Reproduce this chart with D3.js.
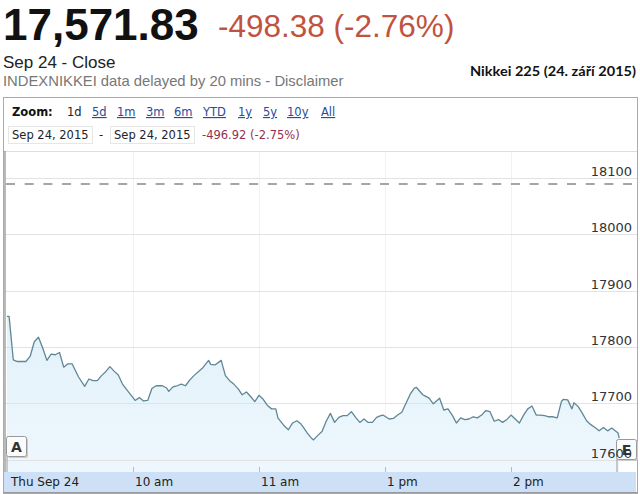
<!DOCTYPE html>
<html>
<head>
<meta charset="utf-8">
<script src="https://cdn.jsdelivr.net/npm/d3@7.9.0/dist/d3.min.js"></script>
<style>
  body { margin: 0; background: #fff; }
  svg { display: block; }
</style>
</head>
<body>
<svg id="chart" width="640" height="494"></svg>
<script>
// trading minutes since 9:00 open (lunch break 11:30-12:30 removed)
const mins = [
  0, 1, 3, 5, 9, 11, 13, 15, 17, 19,
  21, 23, 25, 27, 29, 31, 34, 37, 39, 41,
  43, 45, 47, 49, 51, 53, 55, 57, 60, 61,
  63, 65, 67, 69, 71, 74, 76, 77, 79, 81,
  83, 85, 87, 89, 93, 96, 97, 99, 102, 104,
  106, 108, 110, 112, 114, 116, 118, 120, 122, 124,
  126, 128, 129, 132, 134, 136, 138, 140, 141, 143,
  145, 146, 148, 150, 152, 154, 156, 158, 160, 162,
  164, 166, 168, 170, 172, 174, 176, 178, 179, 182,
  184, 186, 188, 190, 192, 194, 195, 198, 199, 201,
  203, 206, 208, 210, 212, 214, 216, 218, 220, 222,
  224, 226, 228, 230, 232, 234, 236, 238, 240, 242,
  244, 246, 248, 250, 252, 254, 256, 258, 260, 262,
  264, 265, 267, 269, 270, 272, 274, 276, 278, 280,
  282, 284, 286, 288, 289, 291, 291.5
];
const prices = [
  17854, 17854, 17777, 17774, 17774, 17783, 17809, 17817, 17798, 17776,
  17787, 17786, 17790, 17764, 17770, 17770, 17747, 17730, 17743, 17740,
  17740, 17749, 17756, 17765, 17757, 17750, 17734, 17724, 17710, 17705,
  17710, 17704, 17705, 17726, 17731, 17731, 17727, 17721, 17729, 17731,
  17734, 17731, 17741, 17749, 17762, 17776, 17769, 17768, 17776, 17749,
  17740, 17734, 17726, 17715, 17720, 17712, 17703, 17714, 17707, 17696,
  17690, 17690, 17674, 17660, 17653, 17665, 17669, 17663, 17658, 17647,
  17638, 17635, 17643, 17650, 17668, 17682, 17666, 17675, 17678, 17678,
  17685, 17675, 17666, 17672, 17666, 17666, 17675, 17678, 17679, 17672,
  17673, 17679, 17684, 17700, 17716, 17727, 17728, 17715, 17713, 17709,
  17699, 17709, 17688, 17690, 17679, 17665, 17674, 17671, 17672, 17676,
  17674, 17679, 17687, 17685, 17668, 17671, 17666, 17671, 17679, 17672,
  17665, 17679, 17690, 17695, 17679, 17679, 17678, 17676, 17676, 17674,
  17703, 17707, 17706, 17690, 17701, 17694, 17682, 17669, 17662, 17657,
  17651, 17657, 17651, 17656, 17653, 17647, 17638
];
const prevClose = 18089;
const yTicks = [17600, 17700, 17800, 17900, 18000, 18100];
const xTicks = [0, 60, 120, 180, 240];
const xTickLabels = ['Thu Sep 24', '10 am', '11 am', '1 pm', '2 pm'];
const zoomLinks = ['1d', '5d', '1m', '3m', '6m', 'YTD', '1y', '5y', '10y', 'All'];
const zoomLinkX = [67, 92, 117, 146, 174, 203, 238, 263, 287, 321];

const data = mins.map((m, i) => ({ m, v: prices[i] }));

const svg = d3.select('#chart');
const arial = '"Liberation Sans", Arial, sans-serif';
const verdana = '"DejaVu Sans", Verdana, sans-serif';

// header
svg.append('text').attr('x', 3).attr('y', 40)
  .attr('font-family', arial).attr('font-size', 44).attr('font-weight', 'bold')
  .attr('fill', '#111').text('17,571.83');
svg.append('text').attr('x', 218).attr('y', 37)
  .attr('font-family', arial).attr('font-size', 31.5)
  .attr('fill', '#c0533f').text('-498.38 (-2.76%)');
svg.append('text').attr('x', 3).attr('y', 68)
  .attr('font-family', arial).attr('font-size', 17)
  .attr('fill', '#222').text('Sep 24 - Close');
svg.append('text').attr('x', 3).attr('y', 86)
  .attr('font-family', arial).attr('font-size', 14.8)
  .attr('fill', '#777').text('INDEXNIKKEI data delayed by 20 mins - Disclaimer');
svg.append('text').attr('x', 470).attr('y', 76)
  .attr('font-family', 'Lato, "Open Sans", sans-serif').attr('font-size', 14)
  .attr('font-weight', 'bold').attr('fill', '#111')
  .attr('textLength', 166).attr('lengthAdjust', 'spacingAndGlyphs')
  .text('Nikkei 225 (24. září 2015)');

// chart box
svg.append('rect').attr('x', 3.5).attr('y', 97.5).attr('width', 634).attr('height', 396)
  .attr('fill', '#fff').attr('stroke', '#aaa');

svg.append('text').attr('x', 12).attr('y', 116)
  .attr('font-family', verdana).attr('font-size', 11.5).attr('font-weight', 'bold')
  .attr('fill', '#111').text('Zoom:');
zoomLinks.forEach((t, i) => {
  svg.append('text').attr('x', zoomLinkX[i]).attr('y', 116)
    .attr('font-family', verdana).attr('font-size', 11.5)
    .attr('fill', i === 0 ? '#222' : '#2a4b9b')
    .attr('text-decoration', i === 0 ? 'none' : 'underline')
    .text(t);
});

// date range boxes
[[8, 'Sep 24, 2015'], [110, 'Sep 24, 2015']].forEach(([bx, t]) => {
  svg.append('rect').attr('x', bx + 0.5).attr('y', 126.5).attr('width', 84).attr('height', 17)
    .attr('fill', '#fff').attr('stroke', '#e6e6e6');
  svg.append('text').attr('x', bx + 4).attr('y', 139)
    .attr('font-family', verdana).attr('font-size', 11.5).attr('fill', '#222').text(t);
});
svg.append('text').attr('x', 99).attr('y', 139)
  .attr('font-family', verdana).attr('font-size', 11.5).attr('fill', '#222').text('-');
svg.append('text').attr('x', 202).attr('y', 139)
  .attr('font-family', verdana).attr('font-size', 11.5).attr('fill', '#963050')
  .text('-496.92 (-2.75%)');

// plot
const plotL = 5, plotR = 637, plotT = 151, plotB = 472;
const x = d3.scaleLinear().domain([0, 300]).range([7, 637]);
const y = d3.scaleLinear().domain([17578, 18147.5]).range([plotB, plotT]);

svg.append('line').attr('x1', 4).attr('x2', 637).attr('y1', plotT + 0.5).attr('y2', plotT + 0.5)
  .attr('stroke', '#ddd');

const defs = svg.append('defs');
const grad = defs.append('linearGradient').attr('id', 'fillGrad')
  .attr('x1', 0).attr('x2', 0).attr('y1', 0).attr('y2', 1);
grad.append('stop').attr('offset', '0%').attr('stop-color', '#e2f1fa');
grad.append('stop').attr('offset', '100%').attr('stop-color', '#eef7fd');

// vertical grid
svg.append('g').selectAll('line').data(xTicks.slice(1)).join('line')
  .attr('x1', d => Math.round(x(d)) + 0.5).attr('x2', d => Math.round(x(d)) + 0.5)
  .attr('y1', plotT + 1).attr('y2', plotB)
  .attr('stroke', '#f2f2f2');

// area + line
const area = d3.area().x(d => x(d.m)).y0(plotB).y1(d => y(d.v));
svg.append('path').datum(data).attr('d', area).attr('fill', 'url(#fillGrad)');

// horizontal grid
svg.append('g').selectAll('line').data(yTicks).join('line')
  .attr('x1', plotL).attr('x2', plotR)
  .attr('y1', d => Math.round(y(d)) + 0.5).attr('y2', d => Math.round(y(d)) + 0.5)
  .attr('stroke', '#e2e2e2');

const line = d3.line().x(d => x(d.m)).y(d => y(d.v));
svg.append('path').datum(data).attr('d', line)
  .attr('fill', 'none').attr('stroke', '#5f8795').attr('stroke-width', 1.3)
  .attr('stroke-linejoin', 'round');

// previous close
svg.append('line').attr('x1', plotL + 1).attr('x2', 632)
  .attr('y1', y(prevClose)).attr('y2', y(prevClose))
  .attr('stroke', '#888').attr('stroke-width', 1.6).attr('stroke-dasharray', '9,9.7');

// left edge
svg.append('line').attr('x1', 5).attr('x2', 5).attr('y1', plotT).attr('y2', plotB)
  .attr('stroke', '#8a8a8a').attr('stroke-width', 1.2);

// flags
function flag(fx, fy, w, letter) {
  const g = svg.append('g');
  g.append('line').attr('x1', fx + 1).attr('x2', fx + 1).attr('y1', fy + 20).attr('y2', plotB)
    .attr('stroke', '#999');
  g.append('rect').attr('x', fx + 2).attr('y', fy + 2).attr('width', w).attr('height', 20)
    .attr('rx', 2).attr('fill', '#ccc');
  g.append('rect').attr('x', fx + 0.5).attr('y', fy + 0.5).attr('width', w).attr('height', 20)
    .attr('rx', 2).attr('fill', '#fbfbfb').attr('stroke', '#999');
  g.append('text').attr('x', fx + w / 2 + 0.5).attr('y', fy + 16).attr('text-anchor', 'middle')
    .attr('font-family', verdana).attr('font-size', 14).attr('font-weight', 'bold')
    .attr('fill', '#333').text(letter);
}
flag(6, 436, 20, 'A');
flag(616, 439, 20, 'E');

// y labels
svg.append('g').selectAll('text').data(yTicks).join('text')
  .attr('x', 632).attr('y', d => Math.round(y(d)) - 2)
  .attr('text-anchor', 'end')
  .attr('font-family', verdana).attr('font-size', 13).attr('fill', '#333')
  .text(d => d);

// x axis band
svg.append('rect').attr('x', 4).attr('y', plotB).attr('width', 632).attr('height', 20)
  .attr('fill', '#cde0f5');
svg.append('g').selectAll('line').data(xTicks.slice(1)).join('line')
  .attr('x1', d => Math.round(x(d)) + 0.5).attr('x2', d => Math.round(x(d)) + 0.5)
  .attr('y1', plotB - 5).attr('y2', plotB)
  .attr('stroke', '#bbb');
svg.append('g').selectAll('text').data(xTicks).join('text')
  .attr('x', (d, i) => i === 0 ? 11 : x(d) + 2)
  .attr('y', 486)
  .attr('font-family', verdana).attr('font-size', 12).attr('fill', '#222')
  .text((d, i) => xTickLabels[i]);
svg.append('line').attr('x1', 3).attr('x2', 638).attr('y1', 492.5).attr('y2', 492.5)
  .attr('stroke', '#999');
</script>
</body>
</html>
